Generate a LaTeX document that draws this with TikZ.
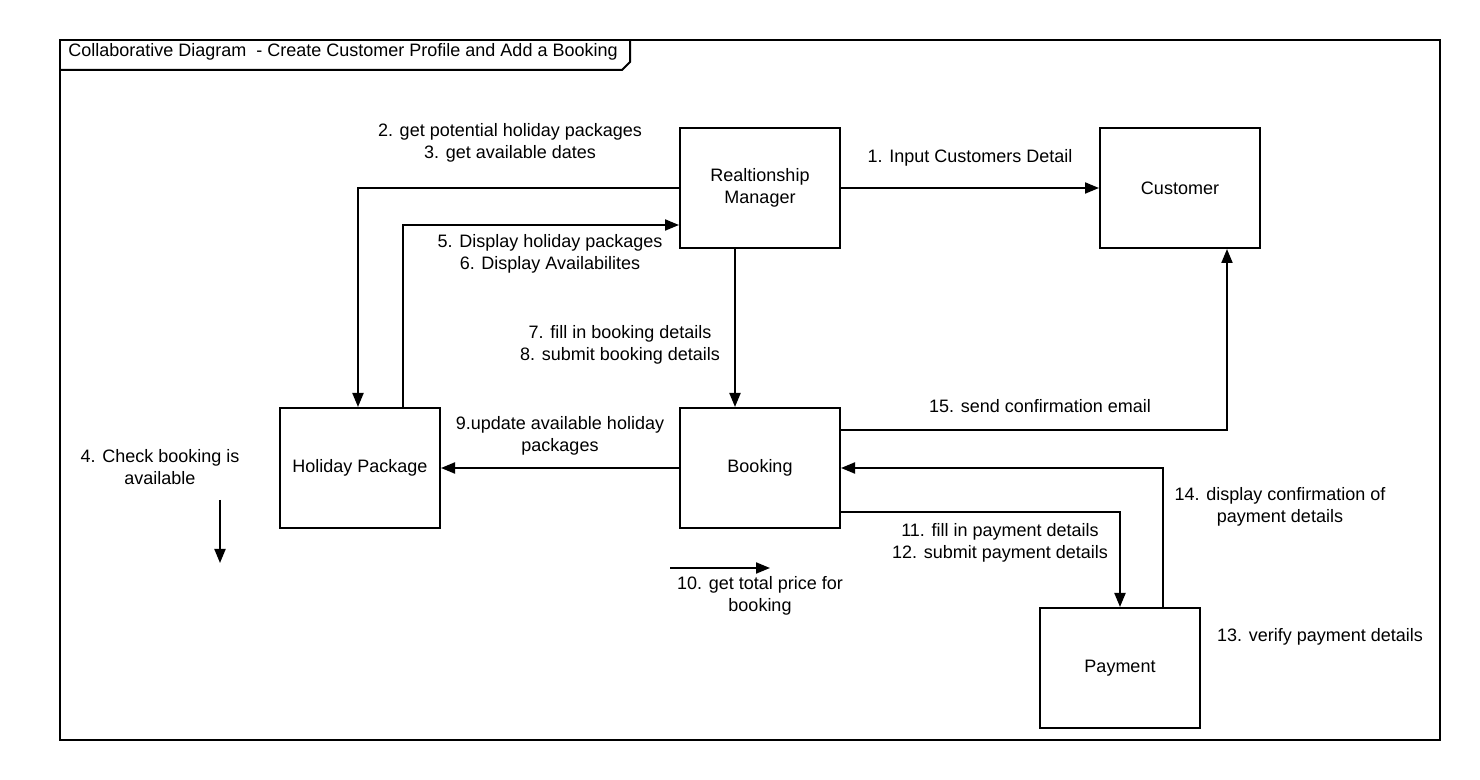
\documentclass[tikz,border=0pt]{standalone}
\usepackage{fontspec}
\setmainfont{Liberation Sans}
\usetikzlibrary{arrows.meta}
\begin{document}
\begin{tikzpicture}[x=0.5pt,y=-0.5pt,
  box/.style={draw,line width=1pt,minimum width=80pt,minimum height=60pt,inner sep=0pt,align=center,font=\fontsize{9}{11}\selectfont},
  lbl/.style={align=center,font=\fontsize{9}{11}\selectfont,inner sep=0pt},
  conn/.style={line width=1pt,-{Triangle[length=7pt,width=5.5pt]}},
  frameline/.style={line width=1pt}]
\useasboundingbox (0,0) rectangle (1480,780);
\draw[frameline] (60,40) rectangle (1440,740);
\draw[frameline] (60,70) -- (622,70) -- (630,62) -- (630,40);
\node[lbl,anchor=west] (title) at (68,52) {Collaborative Diagram\ \ - Create Customer Profile and Add a Booking};

\node[box] (rm) at (760,188) {Realtionship\\Manager};
\node[box] (cust) at (1180,188) {Customer};
\node[box] (hp) at (360,468) {Holiday Package};
\node[box] (bk) at (760,468) {Booking};
\node[box] (pay) at (1120,668) {Payment};

\draw[conn] (rm.east) -- (cust.west);
\draw[conn] (rm.west) -| ([shift={(-2,0)}]hp.north);
\draw[conn] ([shift={(43,0)}]hp.north) |- ([shift={(0,37)}]rm.west);
\draw[conn] ([shift={(-25,0)}]rm.south) -- ([shift={(-25,0)}]bk.north);
\draw[conn] (bk.west) -- (hp.east);
\draw[conn] ([shift={(0,-38)}]bk.east) -| ([shift={(47,0)}]cust.south);
\draw[conn] ([shift={(43,0)}]pay.north) |- (bk.east);
\draw[conn] ([shift={(0,44)}]bk.east) -| (pay.north);

\coordinate (a10s) at (670,568);
\coordinate (a10e) at (770,568);
\draw[conn] (a10s) -- (a10e);
\coordinate (a4s) at (220,500);
\coordinate (a4e) at (220,563);
\draw[conn] (a4s) -- (a4e);

\node[lbl] (l1) at (970,158) {1. Input Customers Detail};
\node[lbl] (l2) at (510,143) {2. get potential holiday packages\\3. get available dates};
\node[lbl] (l5) at (550,254) {5. Display holiday packages\\6. Display Availabilites};
\node[lbl] (l7) at (620,345) {7. fill in booking details\\8. submit booking details};
\node[lbl] (l15) at (1040,406) {15. send confirmation email};
\node[lbl] (l9) at (560,436) {9.update available holiday\\packages};
\node[lbl] (l4) at (160,467) {4. Check booking is\\available};
\node[lbl] (l11) at (1000,543) {11. fill in payment details\\12. submit payment details};
\node[lbl] (l10) at (760,596) {10. get total price for\\booking};
\node[lbl] (l14) at (1280,507) {14. display confirmation of\\payment details};
\node[lbl] (l13) at (1320,637) {13. verify payment details};
\end{tikzpicture}
\end{document}
